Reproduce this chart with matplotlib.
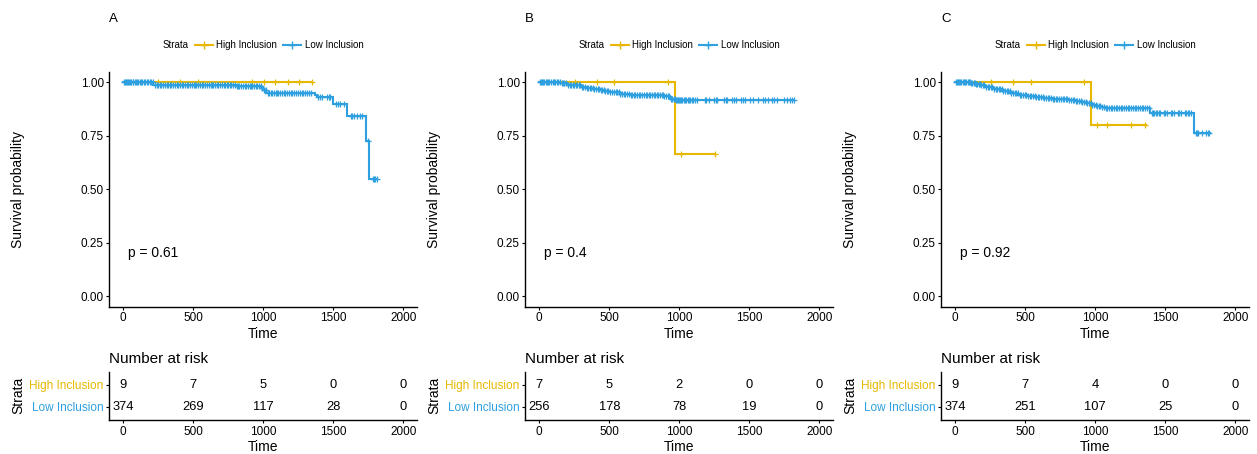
import numpy as np
import matplotlib
matplotlib.use('Agg')
import matplotlib.pyplot as plt
from matplotlib.lines import Line2D

plt.rcParams['font.family'] = ['Liberation Sans', 'DejaVu Sans']

HIGH_COLOR = '#E7B800'
LOW_COLOR = '#2E9FDF'

panel_letters = ['A', 'B', 'C']
pvalues = ['p = 0.61', 'p = 0.4', 'p = 0.92']
risk_times = [0, 500, 1000, 1500, 2000]

# ---- panel A ----
a_high_t = [0]
a_high_s = [1.0]
a_high_end = 1347
a_high_cens = [251, 406, 536, 916, 1005, 1082, 1176, 1253, 1347]
a_low_t = [0, 215, 810, 985, 1000, 1022, 1370, 1385, 1500, 1595, 1730, 1755]
a_low_s = [1.0, 0.99, 0.981, 0.972, 0.962, 0.952, 0.94, 0.932, 0.90, 0.842, 0.725, 0.55]
a_low_end = 1812
a_low_cens = [3, 9, 16, 24, 31, 40, 47, 58, 66, 72, 83, 91, 99, 108, 117, 127, 136, 149,
              157, 168, 177, 188, 199, 212, 224, 238, 247, 259, 271, 283, 296, 311, 321,
              332, 344, 356, 369, 381, 390, 402, 416, 428, 441, 455, 463, 476, 489, 503,
              511, 522, 536, 549, 560, 571, 583, 596, 611, 623, 633, 642, 655, 669, 677,
              688, 702, 716, 727, 738, 751, 764, 772, 783, 797, 810, 818, 829, 843, 857,
              866, 876, 889, 902, 911, 921, 934, 947, 955, 968, 981, 994, 1007, 1018,
              1031, 1043, 1052, 1061, 1074, 1088, 1097, 1107, 1121, 1134, 1146, 1158,
              1172, 1186, 1197, 1208, 1222, 1236, 1249, 1263, 1276, 1287, 1299, 1312,
              1327, 1341, 1392, 1405, 1418, 1452, 1466, 1478, 1521, 1535, 1546, 1577,
              1624, 1637, 1651, 1672, 1688, 1702, 1745, 1786, 1793, 1800, 1812]
a_risk_high = [9, 7, 5, 0, 0]
a_risk_low = [374, 269, 117, 28, 0]

# ---- panel B ----
b_high_t = [0, 968]
b_high_s = [1.0, 0.667]
b_high_end = 1258
b_high_cens = [256, 415, 536, 916, 1011, 1258]
b_low_t = [0, 150, 200, 244, 300, 339, 390, 434, 470, 505, 577, 650, 719, 885, 932, 968]
b_low_s = [1.0, 0.996, 0.99, 0.986, 0.98, 0.975, 0.97, 0.966, 0.96, 0.955, 0.947,
           0.943, 0.94, 0.935, 0.924, 0.916]
b_low_end = 1822
b_low_cens = [4, 11, 19, 27, 36, 45, 55, 63, 71, 84, 96, 105, 114, 125, 136, 148, 161,
              170, 179, 192, 206, 216, 227, 239, 251, 261, 271, 283, 292, 304, 314, 327,
              339, 350, 361, 372, 383, 394, 404, 417, 429, 440, 451, 460, 471, 483, 494,
              508, 521, 534, 546, 557, 567, 579, 591, 603, 614, 628, 641, 652, 663, 674,
              684, 697, 711, 722, 734, 747, 759, 770, 781, 793, 804, 817, 829, 840, 851,
              862, 873, 884, 894, 906, 917, 929, 941, 950, 959, 967, 976, 984, 991, 998,
              1004, 1012, 1021, 1030, 1039, 1050, 1061, 1070, 1079, 1090, 1101, 1113,
              1126, 1182, 1193, 1211, 1249, 1260, 1271, 1322, 1331, 1341, 1379, 1391,
              1402, 1441, 1455, 1469, 1502, 1528, 1561, 1598, 1615, 1632, 1661, 1679,
              1698, 1746, 1768, 1789, 1806, 1822]
b_risk_high = [7, 5, 2, 0, 0]
b_risk_low = [256, 178, 78, 19, 0]

# ---- panel C ----
c_high_t = [0, 968]
c_high_s = [1.0, 0.80]
c_high_end = 1364
c_high_cens = [256, 415, 539, 918, 1013, 1084, 1253, 1352]
c_low_t = [0, 110, 142, 180, 214, 270, 332, 390, 451, 510, 569, 630, 688, 750, 807,
           860, 901, 940, 973, 1010, 1040, 1068, 1388, 1703]
c_low_s = [1.0, 0.997, 0.994, 0.986, 0.978, 0.969, 0.96, 0.951, 0.943, 0.937, 0.932,
           0.928, 0.924, 0.92, 0.916, 0.912, 0.909, 0.903, 0.896, 0.89, 0.884, 0.878,
           0.857, 0.761]
c_low_end = 1822
c_low_cens = [3, 10, 17, 25, 33, 42, 52, 60, 68, 78, 88, 96, 104, 113, 121, 130, 139,
              149, 158, 167, 176, 186, 197, 208, 219, 231, 242, 253, 263, 276, 288, 298,
              309, 320, 331, 342, 354, 366, 377, 389, 401, 412, 424, 436, 448, 460, 471,
              484, 497, 507, 518, 531, 543, 554, 566, 577, 589, 601, 612, 624, 637, 648,
              659, 671, 683, 695, 707, 718, 729, 741, 753, 766, 778, 789, 801, 813, 826,
              838, 849, 860, 872, 884, 896, 907, 919, 931, 943, 954, 966, 978, 991, 1002,
              1014, 1025, 1036, 1049, 1062, 1074, 1086, 1097, 1109, 1121, 1133, 1145,
              1157, 1170, 1182, 1194, 1206, 1218, 1231, 1244, 1257, 1269, 1281, 1293,
              1306, 1318, 1331, 1343, 1356, 1368, 1381, 1404, 1412, 1421, 1431, 1442,
              1452, 1463, 1489, 1500, 1512, 1538, 1549, 1563, 1589, 1600, 1612, 1638,
              1649, 1661, 1672, 1684, 1716, 1723, 1731, 1759, 1788, 1802, 1815]
c_risk_high = [9, 7, 4, 0, 0]
c_risk_low = [374, 251, 107, 25, 0]

panels = [
    (a_high_t, a_high_s, a_high_end, a_high_cens, a_low_t, a_low_s, a_low_end, a_low_cens,
     a_risk_high, a_risk_low),
    (b_high_t, b_high_s, b_high_end, b_high_cens, b_low_t, b_low_s, b_low_end, b_low_cens,
     b_risk_high, b_risk_low),
    (c_high_t, c_high_s, c_high_end, c_high_cens, c_low_t, c_low_s, c_low_end, c_low_cens,
     c_risk_high, c_risk_low),
]

W, H = 1257, 454
fig = plt.figure(figsize=(W / 100, H / 100), dpi=100)


def draw_km(ax, times, surv, end, cens, color):
    t = list(times) + [end]
    s = list(surv) + [surv[-1]]
    ax.step(t, s, where='post', color=color, lw=1.5, solid_joinstyle='miter')
    idx = np.searchsorted(np.array(times), np.array(cens), side='right') - 1
    ax.plot(cens, np.array(surv)[idx], ls='none', marker='+', ms=4.8, mew=0.9, color=color)


def style_axis(ax):
    for side in ['top', 'right']:
        ax.spines[side].set_visible(False)
    for side in ['left', 'bottom']:
        ax.spines[side].set_linewidth(1.0)
    ax.tick_params(length=2.5, width=0.8, pad=1.5, labelsize=8.5, colors='black')
    ax.set_xlim(-100, 2100)
    ax.set_xticks(risk_times)


for i, (ht, hs, hend, hc, lt, ls_, lend, lc, rh, rl) in enumerate(panels):
    x0 = (109.3 + i * 416) / W
    w = 308 / W
    ax = fig.add_axes([x0, 1 - 306.7 / H, w, 235 / H])
    style_axis(ax)
    draw_km(ax, ht, hs, hend, hc, HIGH_COLOR)
    draw_km(ax, lt, ls_, lend, lc, LOW_COLOR)
    ax.set_ylim(-0.05, 1.05)
    ax.set_yticks([0, 0.25, 0.5, 0.75, 1.0])
    ax.set_yticklabels(['0.00', '0.25', '0.50', '0.75', '1.00'])
    ax.set_xlabel('Time', fontsize=10)
    ax.xaxis.set_label_coords(0.5, -0.088)
    ax.set_ylabel('Survival probability', fontsize=10)
    ax.yaxis.set_label_coords(-0.274, 0.5)
    ax.text(35, 0.2, pvalues[i], fontsize=10, ha='left', va='center')

    # panel letter and legend
    ax.text(0.0, 1.213, panel_letters[i], transform=ax.transAxes, fontsize=9.5,
            ha='left', va='baseline')
    ax.text(0.174, 1.1136, 'Strata', transform=ax.transAxes, fontsize=7,
            ha='left', va='center')
    handles = [Line2D([0], [0], color=HIGH_COLOR, lw=1.5, marker='+', ms=6, mew=1.0),
               Line2D([0], [0], color=LOW_COLOR, lw=1.5, marker='+', ms=6, mew=1.0)]
    ax.legend(handles, ['High Inclusion', 'Low Inclusion'], ncol=2, frameon=False,
              loc='center left', bbox_to_anchor=(0.277, 1.1136), borderaxespad=0,
              borderpad=0, fontsize=7, handlelength=1.85, handletextpad=0.38,
              columnspacing=0.6)

    # risk table
    axt = fig.add_axes([x0, 1 - 420 / H, w, 48.3 / H])
    style_axis(axt)
    axt.set_ylim(0.4, 2.6)
    axt.set_yticks([1, 2])
    axt.set_yticklabels(['Low Inclusion', 'High Inclusion'])
    labels = axt.get_yticklabels()
    labels[0].set_color(LOW_COLOR)
    labels[1].set_color(HIGH_COLOR)
    for t, nh, nl in zip(risk_times, rh, rl):
        axt.text(t, 2, str(nh), ha='center', va='center', fontsize=9.3)
        axt.text(t, 1, str(nl), ha='center', va='center', fontsize=9.3)
    axt.set_xlabel('Time', fontsize=10)
    axt.xaxis.set_label_coords(0.5, -0.42)
    axt.set_ylabel('Strata', fontsize=10)
    axt.yaxis.set_label_coords(-0.274, 0.5)
    axt.text(0.0, 1.186, 'Number at risk', transform=axt.transAxes, fontsize=11,
             ha='left', va='baseline')

fig.savefig('out.png', dpi=100)
